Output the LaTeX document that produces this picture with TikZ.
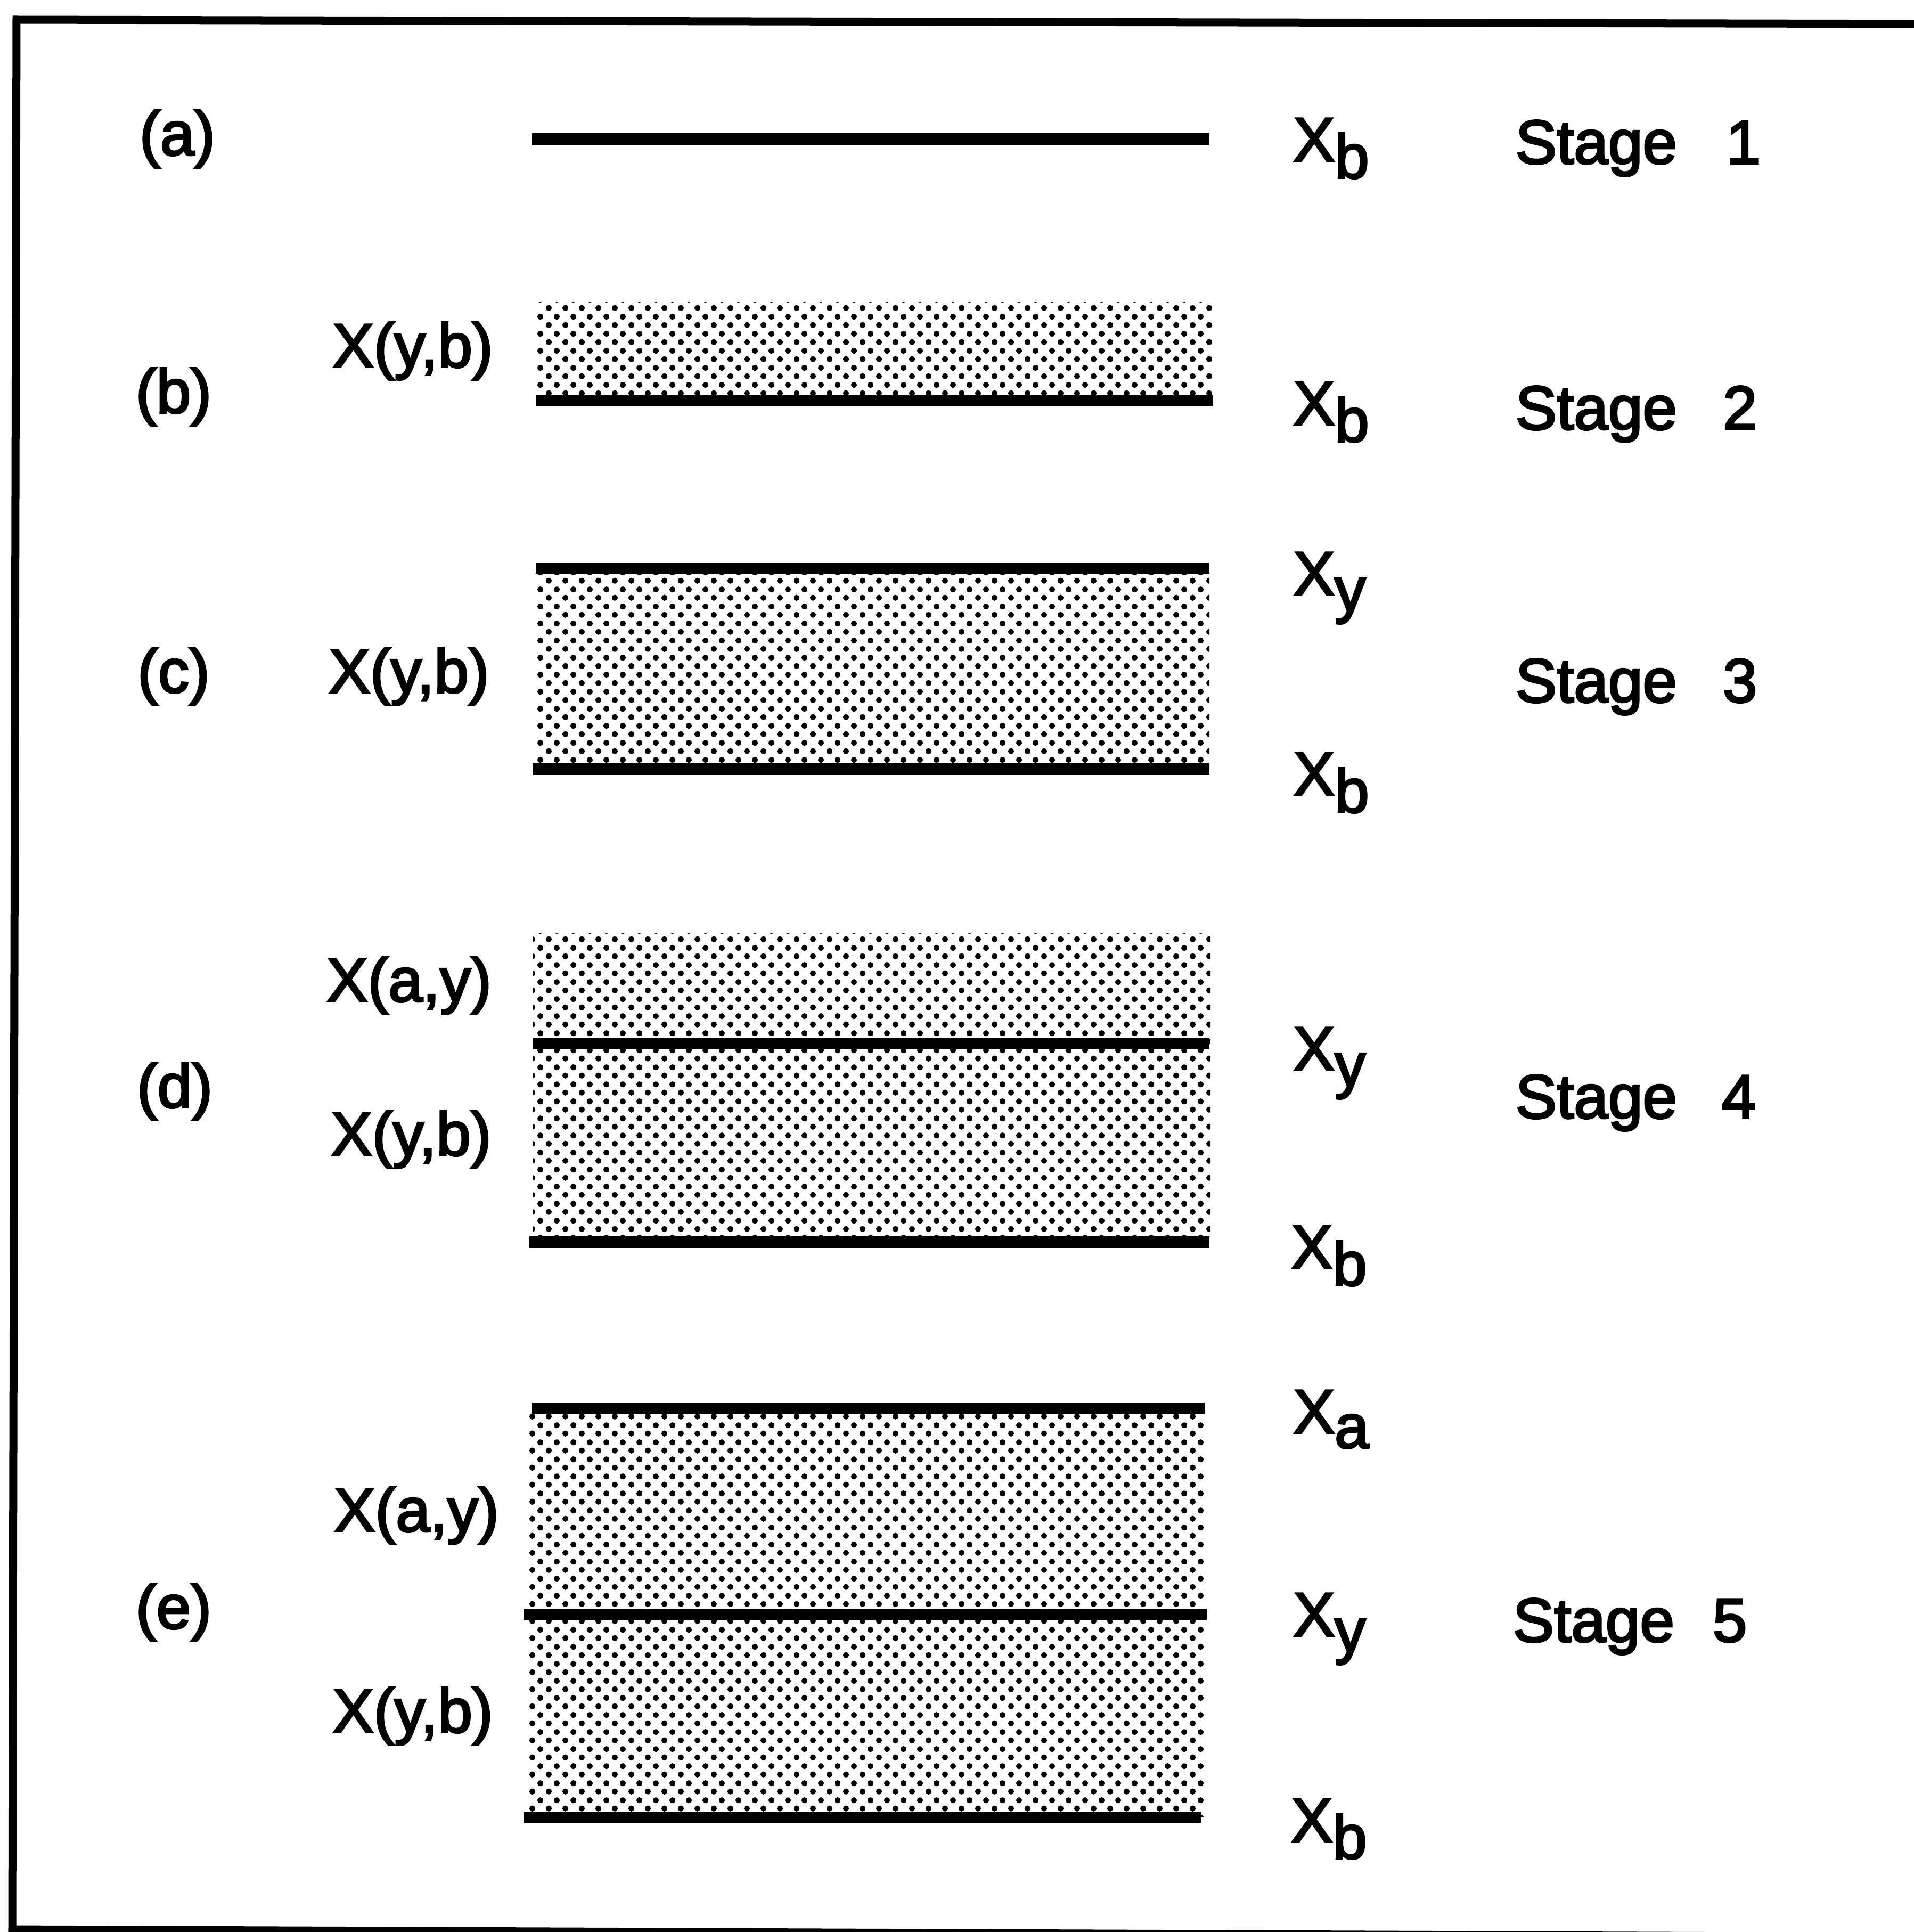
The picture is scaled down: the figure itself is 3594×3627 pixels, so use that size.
\documentclass[tikz,border=0pt]{standalone}
\usepackage{fontspec}
\setmainfont{Liberation Sans}[BoldFont={Liberation Sans},BoldFeatures={FakeBold=3.2}]
\usetikzlibrary{patterns}
\pgfdeclarepatternformonly{stipple}{\pgfpointorigin}{\pgfpoint{0.31cm}{0.32cm}}{\pgfpoint{0.31cm}{0.32cm}}{%
  \pgfpathcircle{\pgfpoint{0.0775cm}{0.08cm}}{0.058cm}%
  \pgfpathcircle{\pgfpoint{0.2325cm}{0.24cm}}{0.058cm}%
  \pgfusepath{fill}}
\begin{document}
\begin{tikzpicture}[x=0.01cm,y=-0.01cm,
  lbl/.style={font=\fontsize{33}{40}\selectfont\bfseries, inner sep=0pt},
  bar/.style={line width=0.21cm},
  frame/.style={line width=0.15cm},
  shade/.style={pattern=stipple, pattern color=black}]
\useasboundingbox (0,0) rectangle (3594,3627);
\clip (0,0) rectangle (3594,3627);
% frame (open at right, bottom partly cut off)
\draw[frame] (3700,45) -- (31,37) -- (23,3622) -- (3594,3636);
% stippled bands
\fill[shade] (1006,567) rectangle (2276,752);
\fill[shade] (1006,1066) rectangle (2271,1443);
\fill[shade] (1000,1751) rectangle (2273,2331);
\fill[shade] (994,2643) rectangle (2262,3411);
% level lines
\draw[bar] (999,261) -- (2271,261);
\draw[bar] (1006,752) -- (2278,752);
\draw[bar] (1006,1066) -- (2271,1066);
\draw[bar] (1000,1443) -- (2271,1443);
\draw[bar] (1000,1959) -- (2271,1959);
\draw[bar] (994,2331) -- (2271,2331);
\draw[bar] (999,2643) -- (2262,2643);
\draw[bar] (983,3030) -- (2266,3030);
\draw[bar] (983,3411) -- (2255,3411);
% row labels
\node[lbl] (la) at (333,261) {(a)};
\node[lbl] (lb) at (326,745) {(b)};
\node[lbl] (lc) at (326,1270) {(c)};
\node[lbl] (ld) at (328,2049) {(d)};
\node[lbl] (le) at (326,3027) {(e)};
% region labels
\node[lbl] (rb) at (775,659) {X(y,b)};
\node[lbl] (rc) at (768,1270) {X(y,b)};
\node[lbl] (rd1) at (768,1850) {X(a,y)};
\node[lbl] (rd2) at (772,2139) {X(y,b)};
\node[lbl] (re1) at (782,2845) {X(a,y)};
\node[lbl] (re2) at (775,3222) {X(y,b)};
% level labels
\node[lbl, anchor=base west] (xa1) at (2428,302) {X\raisebox{-0.32cm}{b}};
\node[lbl, anchor=base west] (xb1) at (2428,797) {X\raisebox{-0.32cm}{b}};
\node[lbl, anchor=base west] (xc1) at (2428,1117) {X\raisebox{-0.3cm}{y}};
\node[lbl, anchor=base west] (xc2) at (2428,1493) {X\raisebox{-0.32cm}{b}};
\node[lbl, anchor=base west] (xd1) at (2428,2009) {X\raisebox{-0.3cm}{y}};
\node[lbl, anchor=base west] (xd2) at (2424,2381) {X\raisebox{-0.32cm}{b}};
\node[lbl, anchor=base west] (xe1) at (2428,2690) {X\raisebox{-0.28cm}{a}};
\node[lbl, anchor=base west] (xe2) at (2428,3071) {X\raisebox{-0.3cm}{y}};
\node[lbl, anchor=base west] (xe3) at (2424,3457) {X\raisebox{-0.32cm}{b}};
% stage labels
\node[lbl, anchor=base west] (s1) at (2845,307) {Stage\hspace{0.93cm}1};
\node[lbl, anchor=base west] (s2) at (2845,806) {Stage\hspace{0.86cm}2};
\node[lbl, anchor=base west] (s3) at (2845,1318) {Stage\hspace{0.86cm}3};
\node[lbl, anchor=base west] (s4) at (2845,2099) {Stage\hspace{0.84cm}4};
\node[lbl, anchor=base west] (s5) at (2840,3082) {Stage\hspace{0.72cm}5};
\end{tikzpicture}
\end{document}
